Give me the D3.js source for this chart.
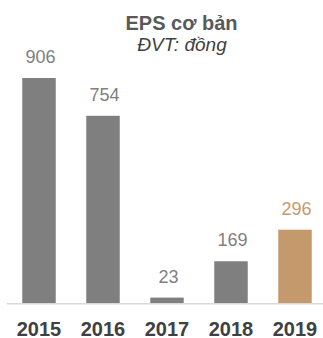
<!DOCTYPE html>
<html><head><meta charset="utf-8">
<script src="https://cdn.jsdelivr.net/npm/d3@7"></script>
<style>html,body{margin:0;padding:0;background:#fff;}svg{display:block;}</style>
</head><body>
<script>
const years = ["2015","2016","2017","2018","2019"];
const eps = [906, 754, 23, 169, 296];
const highlightYear = "2019";
const title = "EPS cơ bản";
const subtitle = "ĐVT: đồng";

const W = 323, H = 338;
const svg = d3.select("body").append("svg").attr("width", W).attr("height", H);
const font = "Arial, 'Liberation Sans', sans-serif";

const x = d3.scaleBand().domain(years).range([7, 327]).paddingInner(0.477).paddingOuter(0.2385);
const y = d3.scaleLinear().domain([0, 906]).range([303.3, 78]);

const grey = "#7f7f7f", gold = "#c49a6c";
const col = d => d === highlightYear ? gold : grey;

svg.append("g").selectAll("rect").data(years).join("rect")
  .attr("x", d => x(d)).attr("width", x.bandwidth())
  .attr("y", (d,i) => y(eps[i])).attr("height", (d,i) => y(0) - y(eps[i]))
  .attr("fill", col);

svg.append("line").attr("x1", 7).attr("x2", W).attr("y1", 303.8).attr("y2", 303.8)
  .attr("stroke", "#d9d9d9").attr("stroke-width", 1.5);

svg.append("g").selectAll("text").data(years).join("text")
  .attr("x", d => x(d) + x.bandwidth()/2 + 1.5)
  .attr("y", (d,i) => y(eps[i]) - 14.8)
  .attr("text-anchor", "middle").attr("font-family", font).attr("font-size", 18)
  .attr("fill", col).text((d,i) => eps[i]);

svg.append("g").selectAll("text").data(years).join("text")
  .attr("x", d => x(d) + x.bandwidth()/2)
  .attr("y", 335.5)
  .attr("text-anchor", "middle").attr("font-family", font).attr("font-size", 20)
  .attr("font-weight", "bold").attr("fill", "#404040").text(d => d);

svg.append("text").attr("x", 181.5).attr("y", 29.5).attr("text-anchor", "middle")
  .attr("font-family", font).attr("font-size", 20).attr("font-weight", "bold")
  .attr("fill", "#595959").text(title);
svg.append("text").attr("x", 182).attr("y", 51).attr("text-anchor", "middle")
  .attr("font-family", font).attr("font-size", 19).attr("font-style", "italic")
  .attr("fill", "#404040").text(subtitle);
</script>
</body></html>
